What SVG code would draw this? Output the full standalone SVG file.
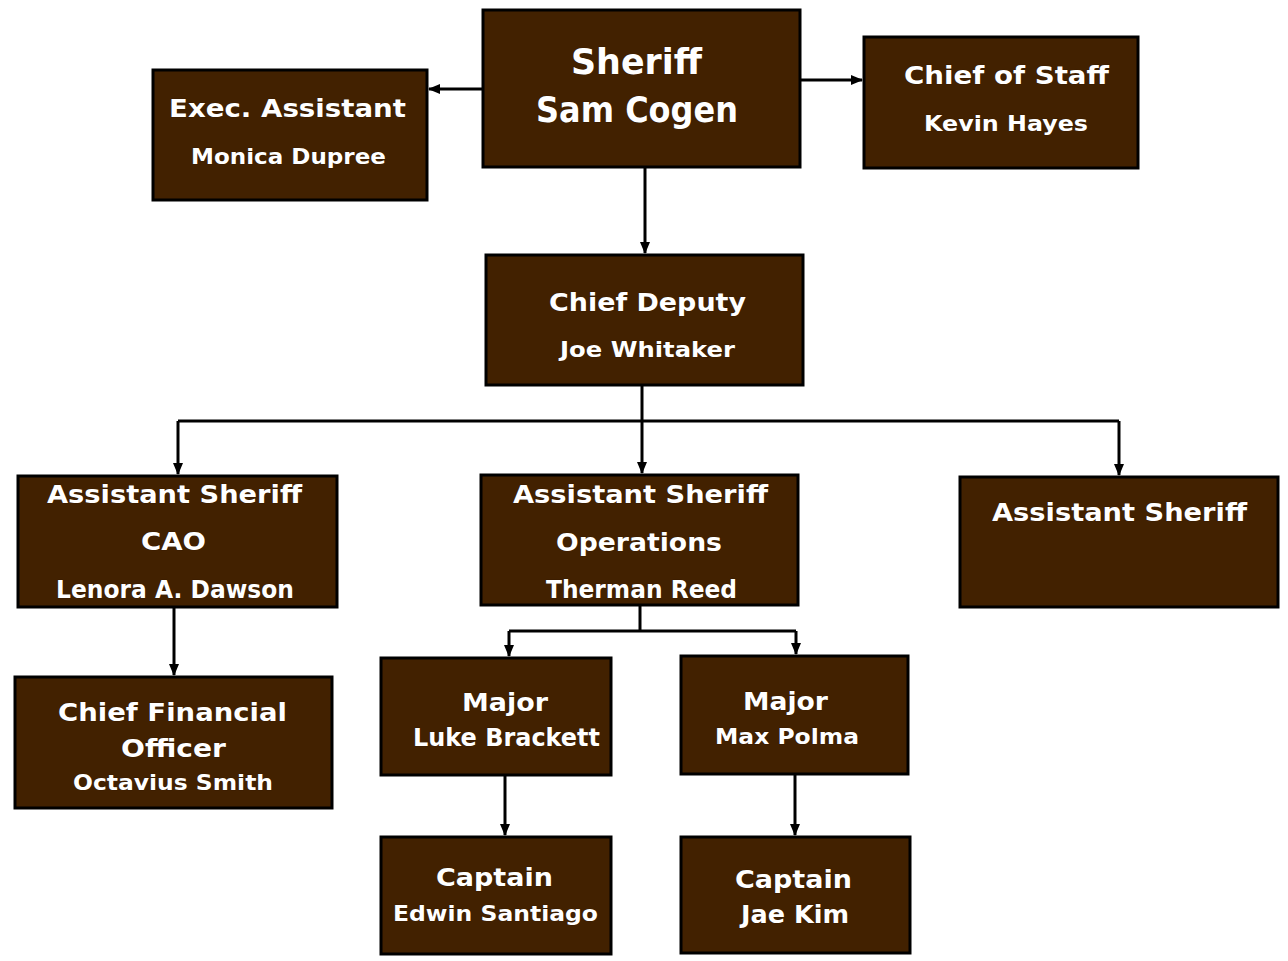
<svg xmlns="http://www.w3.org/2000/svg" width="1288" height="961" viewBox="0 0 1288 961">
<defs>
<marker id="arr" markerWidth="12" markerHeight="12" refX="11" refY="6" orient="auto" markerUnits="userSpaceOnUse">
<path d="M0,1 L12,6 L0,11 Z" fill="#000"/>
</marker>
<style>
.box{fill:#422100;stroke:#000;stroke-width:3}
.t{font-family:"DejaVu Sans","Liberation Sans",sans-serif;font-weight:bold;fill:#fff;stroke:#2a1400;stroke-width:0.6;paint-order:stroke;text-anchor:middle}
.h{font-size:25px}
.n{font-size:21px}
.big{font-size:35px}
.c{fill:none;stroke:#000;stroke-width:3}
</style>
</defs>
<rect width="1288" height="961" fill="#fff"/>
<g id="connectors">
<path class="c" d="M483,89 H429" marker-end="url(#arr)"/>
<path class="c" d="M800,80 H862" marker-end="url(#arr)"/>
<path class="c" d="M645,167 V253" marker-end="url(#arr)"/>
<path class="c" d="M642,385 V421"/>
<path class="c" d="M178,421 H1119"/>
<path class="c" d="M178,421 V474" marker-end="url(#arr)"/>
<path class="c" d="M642,421 V473" marker-end="url(#arr)"/>
<path class="c" d="M1119,421 V475" marker-end="url(#arr)"/>
<path class="c" d="M174,607 V675" marker-end="url(#arr)"/>
<path class="c" d="M640,605 V631"/>
<path class="c" d="M509,631 H796"/>
<path class="c" d="M509,631 V656" marker-end="url(#arr)"/>
<path class="c" d="M796,631 V654" marker-end="url(#arr)"/>
<path class="c" d="M505,775 V835" marker-end="url(#arr)"/>
<path class="c" d="M795,774 V835" marker-end="url(#arr)"/>
</g>
<g id="sheriff">
<rect class="box" x="483" y="10" width="317" height="157"/>
<text class="t big" x="636.5" y="74" textLength="131" lengthAdjust="spacingAndGlyphs">Sheriff</text>
<text class="t big" x="637" y="122" textLength="202" lengthAdjust="spacingAndGlyphs">Sam Cogen</text>
</g>
<g id="exec-assistant">
<rect class="box" x="153" y="70" width="274" height="130"/>
<text class="t h" x="287.5" y="117" textLength="237" lengthAdjust="spacingAndGlyphs">Exec. Assistant</text>
<text class="t n" x="288.5" y="163.5" textLength="195" lengthAdjust="spacingAndGlyphs">Monica Dupree</text>
</g>
<g id="chief-of-staff">
<rect class="box" x="864" y="37" width="274" height="131"/>
<text class="t h" x="1006.5" y="84" textLength="205" lengthAdjust="spacingAndGlyphs">Chief of Staff</text>
<text class="t n" x="1006" y="130.5" textLength="164" lengthAdjust="spacingAndGlyphs">Kevin Hayes</text>
</g>
<g id="chief-deputy">
<rect class="box" x="486" y="255" width="317" height="130"/>
<text class="t h" x="647.5" y="311" textLength="197" lengthAdjust="spacingAndGlyphs">Chief Deputy</text>
<text class="t n" x="647.5" y="356.5" textLength="175" lengthAdjust="spacingAndGlyphs">Joe Whitaker</text>
</g>
<g id="as-cao">
<rect class="box" x="18" y="476" width="319" height="131"/>
<text class="t h" x="174.5" y="503" textLength="255" lengthAdjust="spacingAndGlyphs">Assistant Sheriff</text>
<text class="t h" x="173.5" y="550" textLength="65" lengthAdjust="spacingAndGlyphs">CAO</text>
<text class="t h" x="175" y="598" textLength="238" lengthAdjust="spacingAndGlyphs">Lenora A. Dawson</text>
</g>
<g id="as-operations">
<rect class="box" x="481" y="475" width="317" height="130"/>
<text class="t h" x="640.5" y="503" textLength="255" lengthAdjust="spacingAndGlyphs">Assistant Sheriff</text>
<text class="t h" x="639" y="551" textLength="166" lengthAdjust="spacingAndGlyphs">Operations</text>
<text class="t h" x="641.5" y="598" textLength="191" lengthAdjust="spacingAndGlyphs">Therman Reed</text>
</g>
<g id="as-right">
<rect class="box" x="960" y="477" width="318" height="130"/>
<text class="t h" x="1119.5" y="521" textLength="255" lengthAdjust="spacingAndGlyphs">Assistant Sheriff</text>
</g>
<g id="cfo">
<rect class="box" x="15" y="677" width="317" height="131"/>
<text class="t h" x="172.5" y="721" textLength="229" lengthAdjust="spacingAndGlyphs">Chief Financial</text>
<text class="t h" x="173.5" y="757" textLength="105" lengthAdjust="spacingAndGlyphs">Officer</text>
<text class="t n" x="173" y="789.5" textLength="200" lengthAdjust="spacingAndGlyphs">Octavius Smith</text>
</g>
<g id="major-brackett">
<rect class="box" x="381" y="658" width="230" height="117"/>
<text class="t h" x="505" y="711" textLength="86" lengthAdjust="spacingAndGlyphs">Major</text>
<text class="t h" x="506.5" y="746" textLength="187" lengthAdjust="spacingAndGlyphs">Luke Brackett</text>
</g>
<g id="major-polma">
<rect class="box" x="681" y="656" width="227" height="118"/>
<text class="t h" x="785.5" y="710" textLength="85" lengthAdjust="spacingAndGlyphs">Major</text>
<text class="t n" x="787" y="743.5" textLength="144" lengthAdjust="spacingAndGlyphs">Max Polma</text>
</g>
<g id="captain-santiago">
<rect class="box" x="381" y="837" width="230" height="117"/>
<text class="t h" x="494.5" y="886" textLength="117" lengthAdjust="spacingAndGlyphs">Captain</text>
<text class="t n" x="495.5" y="920.5" textLength="205" lengthAdjust="spacingAndGlyphs">Edwin Santiago</text>
</g>
<g id="captain-kim">
<rect class="box" x="681" y="837" width="229" height="116"/>
<text class="t h" x="793.5" y="888" textLength="117" lengthAdjust="spacingAndGlyphs">Captain</text>
<text class="t h" x="795" y="923" textLength="108" lengthAdjust="spacingAndGlyphs">Jae Kim</text>
</g>
</svg>
